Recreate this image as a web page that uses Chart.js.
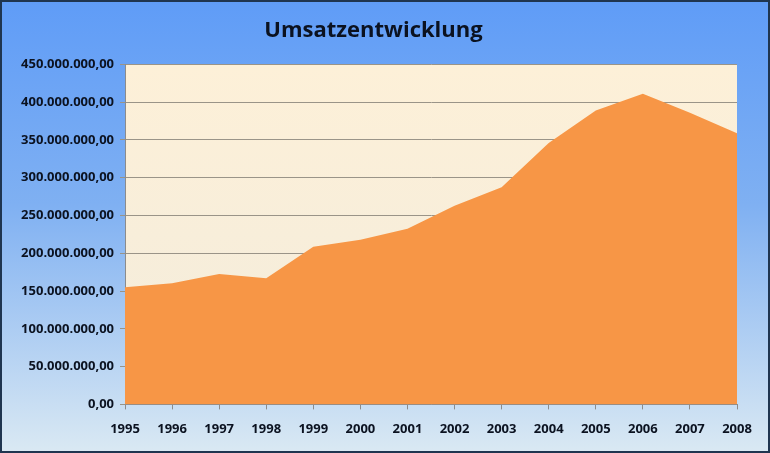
<!DOCTYPE html>
<html>
<head>
<meta charset="utf-8">
<script src="https://cdn.jsdelivr.net/npm/chart.js@4/dist/chart.umd.min.js"></script>
<style>
  html, body { margin: 0; padding: 0; background: #ffffff; }
  #wrap { width: 770px; height: 453px; position: relative; }
</style>
</head>
<body>
<div id="wrap"><canvas id="umsatzChart" width="770" height="453"></canvas></div>
<script>
// Daten
const jahre = ['1995', '1996', '1997', '1998', '1999', '2000', '2001', '2002', '2003', '2004', '2005', '2006', '2007', '2008'];
const umsatz = [155000000, 160500000, 172500000, 167000000, 208500000, 218000000, 232500000, 263000000, 287500000, 346000000, 389000000, 411000000, 386000000, 359000000];
const titel = 'Umsatzentwicklung';

function formatDE(v) {
    // 450000000 -> 450.000.000,00
    const ganz = Math.round(v).toString().replace(/\B(?=(\d{3})+(?!\d))/g, '.');
    return ganz + ',00';
}

// Hintergrund fuer Diagramm und Zeichenflaeche
const hintergrund = {
    id: 'hintergrund',
    beforeDraw(chart) {
        const ctx = chart.ctx;
        const w = chart.width, h = chart.height;
        ctx.save();
        let g = ctx.createLinearGradient(0, 0, 0, h);
        g.addColorStop(0, '#5f9cf7');
        g.addColorStop(0.45, '#7fb0f2');
        g.addColorStop(1, '#dae9f3');
        ctx.fillStyle = g;
        ctx.fillRect(0, 0, w, h);

        const a = chart.chartArea;
        g = ctx.createLinearGradient(0, a.top, 0, a.bottom);
        g.addColorStop(0, '#fdf0d8');
        g.addColorStop(1, '#f3ecdc');
        ctx.fillStyle = g;
        ctx.fillRect(a.left, a.top, a.right - a.left, a.bottom - a.top);

        ctx.strokeStyle = '#1f3550';
        ctx.lineWidth = 2;
        ctx.strokeRect(1, 1, w - 2, h - 2);
        ctx.restore();
    }
};

const ctx = document.getElementById('umsatzChart').getContext('2d');
new Chart(ctx, {
    type: 'line',
    data: {
        labels: jahre,
        datasets: [{
            label: 'Umsatz',
            data: umsatz,
            fill: 'origin',
            backgroundColor: '#f79646',
            borderColor: '#f79646',
            borderWidth: 0,
            pointRadius: 0,
            tension: 0
        }]
    },
    options: {
        responsive: false,
        animation: false,
        layout: { padding: { left: 10, right: 33, top: 0, bottom: 4 } },
        plugins: {
            legend: { display: false },
            tooltip: { enabled: false },
            title: {
                display: true,
                text: titel,
                color: '#0b1220',
                font: { family: 'Open Sans', size: 22, weight: 'bold' },
                padding: { top: 18, bottom: 20 }
            }
        },
        scales: {
            x: {
                offset: false,
                grid: { drawOnChartArea: false, color: '#8c8c8c', tickLength: 5 },
                border: { color: '#8c8c8c' },
                ticks: {
                    color: '#0b1220',
                    font: { family: 'Open Sans', size: 13, weight: 'bold' },
                    maxRotation: 0,
                    autoSkip: false,
                    padding: 12
                }
            },
            y: {
                min: 0,
                max: 450000000,
                grid: { color: '#9a9488', tickLength: 5 },
                border: { color: '#8c8c8c' },
                ticks: {
                    stepSize: 50000000,
                    color: '#0b1220',
                    font: { family: 'Open Sans', size: 13, weight: 'bold' },
                    padding: 6,
                    callback: v => formatDE(v)
                },
                afterFit(scale) { scale.width = 115; }
            }
        }
    },
    plugins: [hintergrund]
});
</script>
</body>
</html>
